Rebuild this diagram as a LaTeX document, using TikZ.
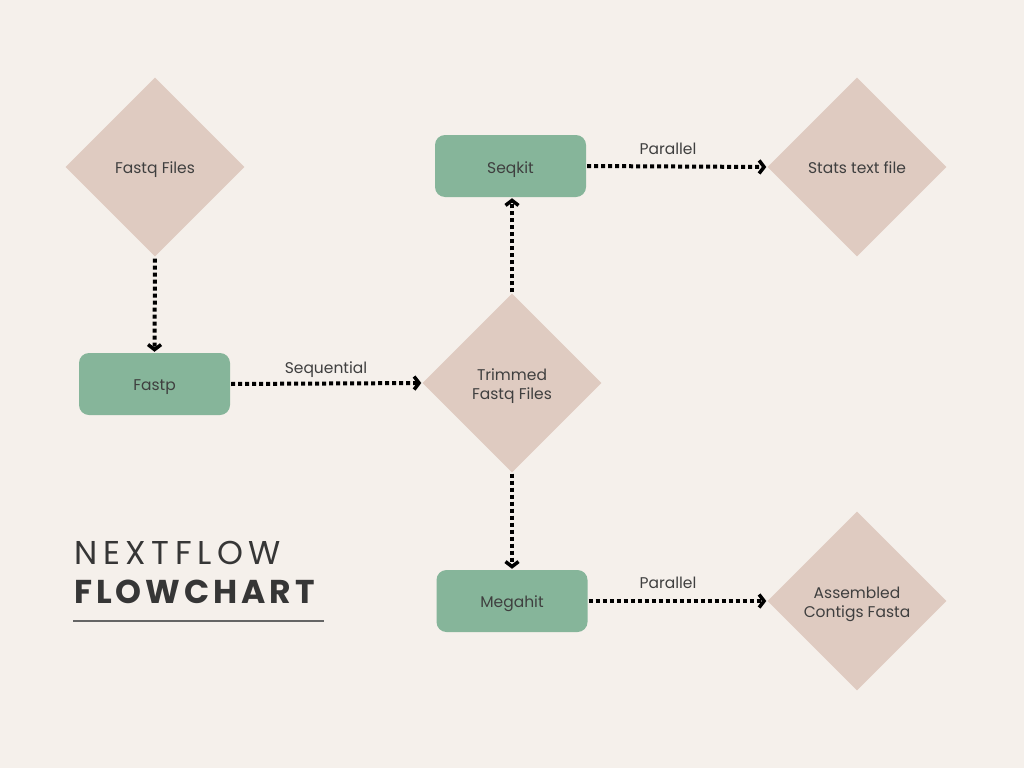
\documentclass[tikz,border=0pt]{standalone}
\usepackage{fontspec}
\setmainfont{Poppins}
\usetikzlibrary{shapes.geometric,arrows.meta}
\definecolor{bg}{HTML}{F5F0EB}
\definecolor{dia}{HTML}{DFCBC1}
\definecolor{box}{HTML}{86B59A}
\definecolor{txt}{HTML}{3F3F3F}
\begin{document}
\begin{tikzpicture}[x=1pt,y=-1pt,
  dnode/.style={diamond,fill=dia,minimum width=179pt,minimum height=179pt,inner sep=0pt,aspect=1},
  bnode/.style={rectangle,rounded corners=10pt,fill=box,minimum width=151pt,minimum height=62pt},
  ntext/.style={font=\fontsize{15.5}{19}\selectfont,text=txt,align=center,inner sep=0pt,yshift=-3pt},
  flow/.style={line width=4pt,dash pattern=on 4pt off 3pt,shorten <=1pt,shorten >=1pt,
     -{Straight Barb[length=5pt,width=13pt,line width=3.5pt]}},
  lbl/.style={font=\fontsize{15.5}{19}\selectfont,text=txt,inner sep=0pt,anchor=base}]
\useasboundingbox (0,0) rectangle (1024,768);
\fill[bg] (0,0) rectangle (1024,768);

\node[dnode] (fq) at (155,167) {};
\node[bnode] (fastp) at (154.5,384) {};
\node[dnode] (trim) at (512,383) {};
\node[bnode] (seqkit) at (510.5,166) {};
\node[dnode] (stats) at (857,167) {};
\node[bnode] (megahit) at (512,601) {};
\node[dnode] (asm) at (857,601) {};

\node[ntext] (fqt) at (fq.center) {Fastq Files};
\node[ntext] (fastpt) at (fastp.center) {Fastp};
\node[ntext] (trimt) at (trim.center) {Trimmed\\Fastq Files};
\node[ntext,yshift=-1pt] (seqkitt) at (seqkit.center) {Seqkit};
\node[ntext,yshift=2pt] (statst) at (stats.center) {Stats text file};
\node[ntext] (megahitt) at (megahit.center) {Megahit};
\node[ntext] (asmt) at (asm.center) {Assembled\\Contigs Fasta};

\draw[flow,shorten <=2pt] (fq.south) -- (fastp.north);
\draw[flow] (fastp.east) -- (trim.west);
\draw[flow] (trim.north) -- (trim.north |- seqkit.south);
\draw[flow] (seqkit.east) -- (stats.west);
\draw[flow] (trim.south) -- (trim.south |- megahit.north);
\draw[flow] (megahit.east) -- (asm.west);

\node[lbl] (l1) at (326,373) {Sequential};
\node[lbl] (l2) at (668,154) {Parallel};
\node[lbl] (l3) at (668,588) {Parallel};

\node[anchor=base west,inner sep=0pt,text=txt!85!black,font=\fontsize{33}{36}\selectfont\addfontfeatures{LetterSpace=17}] (t1) at (74,564) {NEXTFLOW};
\node[anchor=base west,inner sep=0pt,text=txt!85!black,font=\fontsize{33}{36}\selectfont\bfseries\addfontfeatures{LetterSpace=12}] (t2) at (74,603) {FLOWCHART};
\draw[line width=1.5pt,color=txt!80] (73,621) -- (324,621);
\end{tikzpicture}
\end{document}
